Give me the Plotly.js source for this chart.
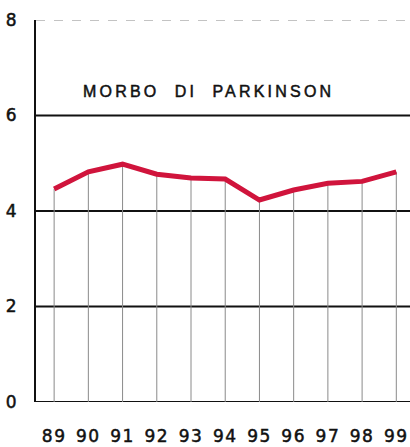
<!DOCTYPE html>
<html><head><meta charset="utf-8">
<script src="https://cdn.plot.ly/plotly-3.0.1.min.js"></script>
<style>html,body{margin:0;padding:0;background:#fff;}</style>
</head><body><div id="chart" style="width:410px;height:447px;"></div>
<script>
var years = [89, 90, 91, 92, 93, 94, 95, 96, 97, 98, 99];
var yearLabels = ['89','90','91','92','93','94','95','96','97','98','99'];
var values = [4.46, 4.82, 4.98, 4.77, 4.69, 4.67, 4.23, 4.44, 4.58, 4.62, 4.82];
var yTicks = [0, 2, 4, 6, 8];
var title = 'MORBO\u00a0\u00a0DI\u00a0\u00a0PARKINSON';

// drop lines from each point to zero
var drops = {
  x: years, y: values, type: 'scatter', mode: 'none',
  error_y: {type: 'data', symmetric: false, array: years.map(function(){return 0;}),
            arrayminus: values, color: '#8a8a8a', thickness: 1, width: 0},
  hoverinfo: 'none'
};
var trace = {
  x: years, y: values, type: 'scatter', mode: 'lines',
  line: {color: '#d0143c', width: 5},
  hoverinfo: 'none'
};
var shapes = yTicks.map(function(v){
  var top = v === yTicks[yTicks.length-1];
  return {type: 'line', xref: 'paper', yref: 'y', x0: 0, x1: 1, y0: v, y1: v,
          line: {color: top ? '#888' : '#111', width: top ? 1 : 2, dash: top ? 'dash' : 'solid'},
          layer: 'below'};
});
var tickFont = {size: 17, color: '#111', family: '"DejaVu Sans", sans-serif'};
var layout = {
  width: 410, height: 447,
  margin: {l: 36, r: 0, t: 20, b: 45},
  paper_bgcolor: '#ffffff', plot_bgcolor: '#ffffff',
  showlegend: false,
  font: {family: '"DejaVu Sans", sans-serif', color: '#111'},
  xaxis: {
    range: [88.47, 99.4], tickvals: years, ticktext: yearLabels,
    showgrid: false, zeroline: false, showline: false, ticks: '',
    tickfont: tickFont, ticklabelstandoff: 22
  },
  yaxis: {
    range: [0, 8], tickvals: yTicks, ticktext: yTicks.map(String),
    showgrid: false, zeroline: false, showline: true, linecolor: '#111', linewidth: 2,
    ticks: '', tickfont: tickFont, ticklabelstandoff: 14
  },
  shapes: shapes,
  annotations: [{
    text: title, xref: 'paper', yref: 'y', x: 0.46, y: 6.5,
    xanchor: 'center', yanchor: 'middle', showarrow: false,
    font: {size: 16, color: '#111', family: 'Liberation Sans, Arial, sans-serif'}
  }]
};
Plotly.newPlot('chart', [drops, trace], layout, {displayModeBar: false, staticPlot: true}).then(function(){
  document.querySelectorAll('.annotation-text').forEach(function(t){
    t.style.letterSpacing = '3.2px'; t.style.stroke = '#111'; t.style.strokeWidth = '0.5px';
  });
  document.querySelectorAll('.xtick text, .ytick text').forEach(function(t){
    t.style.stroke = '#111'; t.style.strokeWidth = '0.5px';
  });
  document.querySelectorAll('.xtick text').forEach(function(t){ t.style.letterSpacing = '1.5px'; });
});
</script></body></html>
